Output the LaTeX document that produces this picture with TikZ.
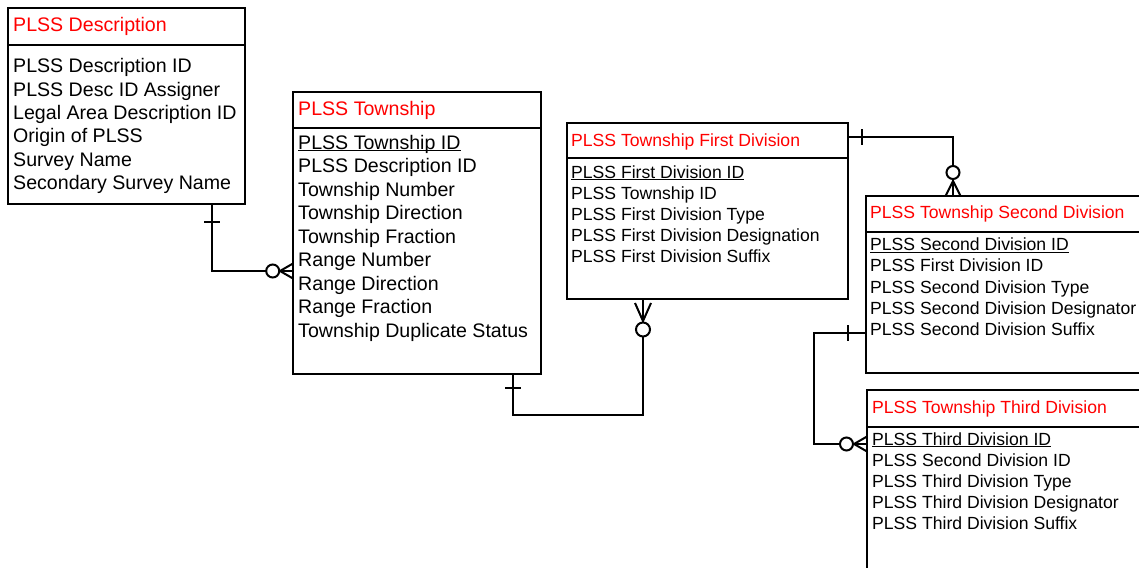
\documentclass[tikz,border=0pt]{standalone}
\usepackage{fontspec}
\setmainfont{Liberation Sans}
\usetikzlibrary{calc}
\newcommand\keyattr[1]{\setbox0\hbox{#1}\rlap{\rule[-2pt]{\wd0}{1pt}}\box0}
\begin{document}
\begin{tikzpicture}[x=1pt,y=-1pt,
  entity/.style={draw,line width=2pt,anchor=north west,inner sep=0pt,outer sep=0pt},
  big/.style={font=\fontsize{19.6}{23.5}\selectfont},
  small/.style={font=\fontsize{17.6}{21.2}\selectfont},
  ttl/.style={anchor=base west,inner sep=0pt,text=red},
  attr/.style={anchor=base west,inner sep=0pt},
  sepline/.style={line width=2pt},
  conn/.style={line width=2pt},
  ring/.style={line width=2pt,fill=white}]
\useasboundingbox (0,0) rectangle (1139,567);
\fill[white] (0,0) rectangle (1139,567);
\clip (0,0) rectangle (1139,567);

% ---------- PLSS Description ----------
\node[entity,minimum width=237pt,minimum height=196pt] (desc) at (8,8) {};
\draw[sepline] (8,45) -- (245,45);
\node[ttl,big] (descT) at (13,32) {PLSS Description};
\node[attr,big] (d1) at (13,72.8) {PLSS Description ID};
\node[attr,big] (d2) at (13,96.1) {PLSS Desc ID Assigner};
\node[attr,big] (d3) at (13,119.4) {Legal Area Description ID};
\node[attr,big] (d4) at (13,142.7) {Origin of PLSS};
\node[attr,big] (d5) at (13,166.0) {Survey Name};
\node[attr,big] (d6) at (13,189.3) {Secondary Survey Name};

% ---------- PLSS Township ----------
\node[entity,minimum width=248pt,minimum height=282pt] (town) at (293,92) {};
\draw[sepline] (293,128) -- (541,128);
\node[ttl,big] (townT) at (298,115) {PLSS Township};
\node[attr,big] (t1) at (298,149.3) {\keyattr{PLSS Township ID}};
\node[attr,big] (t2) at (298,172.8) {PLSS Description ID};
\node[attr,big] (t3) at (298,196.3) {Township Number};
\node[attr,big] (t4) at (298,219.8) {Township Direction};
\node[attr,big] (t5) at (298,243.3) {Township Fraction};
\node[attr,big] (t6) at (298,266.8) {Range Number};
\node[attr,big] (t7) at (298,290.3) {Range Direction};
\node[attr,big] (t8) at (298,313.8) {Range Fraction};
\node[attr,big] (t9) at (298,337.3) {Township Duplicate Status};

% ---------- PLSS Township First Division ----------
\node[entity,minimum width=281pt,minimum height=176pt] (first) at (567,123) {};
\draw[sepline] (567,158) -- (848,158);
\node[ttl,small] (firstT) at (571,146) {PLSS Township First Division};
\node[attr,small] (f1) at (571,178) {\keyattr{PLSS First Division ID}};
\node[attr,small] (f2) at (571,199.2) {PLSS Township ID};
\node[attr,small] (f3) at (571,220.4) {PLSS First Division Type};
\node[attr,small] (f4) at (571,241.6) {PLSS First Division Designation};
\node[attr,small] (f5) at (571,262.8) {PLSS First Division Suffix};

% ---------- PLSS Township Second Division ----------
\node[entity,minimum width=300pt,minimum height=177pt] (second) at (866,196) {};
\draw[sepline] (866,232) -- (1166,232);
\node[ttl,small] (secondT) at (870,218) {PLSS Township Second Division};
\node[attr,small] (s1) at (870,250.7) {\keyattr{PLSS Second Division ID}};
\node[attr,small] (s2) at (870,271.9) {PLSS First Division ID};
\node[attr,small] (s3) at (870,293.1) {PLSS Second Division Type};
\node[attr,small] (s4) at (870,314.3) {PLSS Second Division Designator};
\node[attr,small] (s5) at (870,335.5) {PLSS Second Division Suffix};

% ---------- PLSS Township Third Division ----------
\node[entity,minimum width=300pt,minimum height=220pt] (third) at (867,390) {};
\draw[sepline] (867,427) -- (1167,427);
\node[ttl,small] (thirdT) at (872,413) {PLSS Township Third Division};
\node[attr,small] (h1) at (872,445) {\keyattr{PLSS Third Division ID}};
\node[attr,small] (h2) at (872,466.2) {PLSS Second Division ID};
\node[attr,small] (h3) at (872,487.4) {PLSS Third Division Type};
\node[attr,small] (h4) at (872,508.6) {PLSS Third Division Designator};
\node[attr,small] (h5) at (872,529.8) {PLSS Third Division Suffix};

% ---------- Connector 1: Description -> Township ----------
\coordinate (a1) at ($(desc.south west)+(204,0)$);
\coordinate (b1) at ($(town.north west)+(0,179)$);
\draw[conn] (a1) |- (b1);
\draw[conn] ($(a1)+(-8,18)$) -- ++(16,0);
\draw[conn] ($(b1)+(0,-7.5)$) -- ($(b1)+(-13,0)$) -- ($(b1)+(0,7.5)$);
\draw[ring] ($(b1)+(-20.3,0)$) circle[radius=6.5pt];

% ---------- Connector 2: Township -> First Division ----------
\coordinate (a2) at ($(town.south west)+(220,0)$);
\coordinate (b2) at ($(first.south west)+(76,0)$);
\draw[conn] (a2) -- ++(0,41) -| (b2);
\draw[conn] ($(a2)+(-8,14)$) -- ++(16,0);
\draw[conn] ($(b2)+(-8,4)$) -- ($(b2)+(0,22)$) -- ($(b2)+(8,4)$);
\draw[conn] ($(b2)+(0,4)$) -- ($(b2)+(0,22)$);
\draw[ring] ($(b2)+(0,30.5)$) circle[radius=7pt];

% ---------- Connector 3: First Division -> Second Division ----------
\coordinate (a3) at ($(first.north east)+(0,14)$);
\coordinate (b3) at ($(second.north west)+(87,0)$);
\draw[conn] (a3) -| (b3);
\draw[conn] ($(a3)+(14,-8)$) -- ++(0,16);
\draw[conn] ($(b3)+(-7.5,0)$) -- ($(b3)+(0,-15)$) -- ($(b3)+(7.5,0)$);
\draw[ring] ($(b3)+(0,-23.5)$) circle[radius=6.5pt];

% ---------- Connector 4: Second Division -> Third Division ----------
\coordinate (a4) at ($(second.north west)+(0,137)$);
\coordinate (b4) at ($(third.north west)+(0,54)$);
\draw[conn] (a4) -- ++(-52,0) |- (b4);
\draw[conn] ($(a4)+(-18,-8)$) -- ++(0,16);
\draw[conn] ($(b4)+(0,-7.5)$) -- ($(b4)+(-13,0)$) -- ($(b4)+(0,7.5)$);
\draw[ring] ($(b4)+(-20.5,0)$) circle[radius=6.5pt];
\end{tikzpicture}
\end{document}
